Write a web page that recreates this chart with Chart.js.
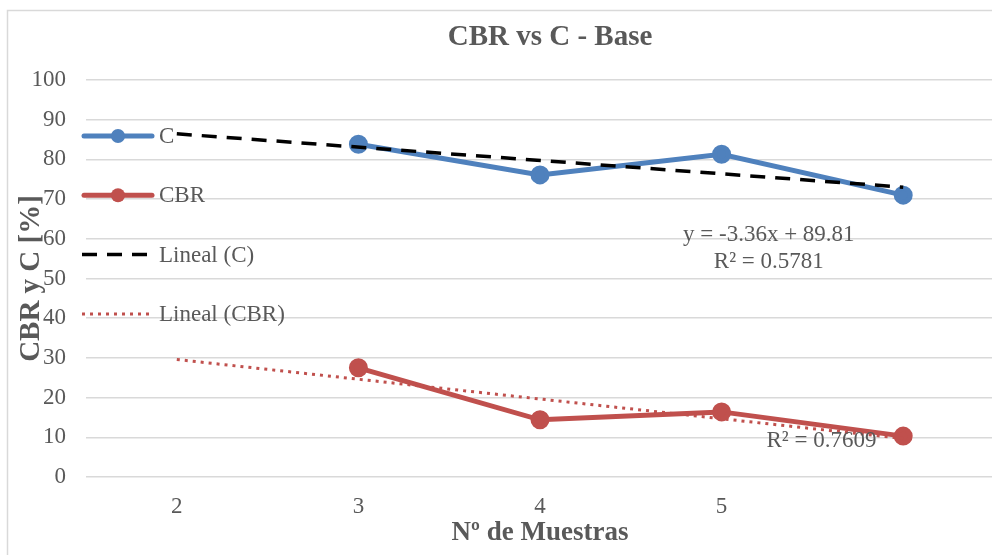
<!DOCTYPE html>
<html>
<head>
<meta charset="utf-8">
<script src="https://cdn.jsdelivr.net/npm/chart.js@4"></script>
<style>
	body { margin: 0; background: #fff; overflow: hidden; width: 992px; height: 555px; }
</style>
</head>
<body>
<canvas id="myChart" width="1006" height="555"></canvas>
<script>
const muestras = ['2', '3', '4', '5', ''];
const valores_c = [null, 83.8, 76.1, 81.3, 71.0];
const valores_cbr = [null, 27.5, 14.4, 16.4, 10.3];
// extremos de las lineas de tendencia
const tendencia_c = [86.45, null, null, null, 73.01];
const tendencia_cbr = [29.6, null, null, null, 9.7];

const colors = {
	blue: '#4F81BD',
	red: '#C0504D',
	text: '#595959',
	grid: '#D9D9D9'
};
const serif = '"Liberation Serif", "Times New Roman", serif';

const leyenda = [
	{ label: 'C', color: colors.blue, kind: 'marker' },
	{ label: 'CBR', color: colors.red, kind: 'marker' },
	{ label: 'Lineal (C)', color: '#000', kind: 'dash' },
	{ label: 'Lineal (CBR)', color: colors.red, kind: 'dot' }
];

const etiquetas = [
	{ text: 'y = -3.36x + 89.81', x: 3.26, y: 61 },
	{ text: 'R² = 0.5781', x: 3.26, y: 54.2 },
	{ text: 'R² = 0.7609', x: 3.55, y: 9.1 }
];

const extras = {
	id: 'extras',
	afterDraw(chart) {
		const ctx = chart.ctx;
		ctx.save();
		// borde exterior
		ctx.strokeStyle = colors.grid;
		ctx.lineWidth = 1.5;
		ctx.strokeRect(7.5, 10.5, 1050, 600);

		// titulo
		ctx.fillStyle = colors.text;
		ctx.font = 'bold 29px ' + serif;
		ctx.textAlign = 'center';
		ctx.textBaseline = 'middle';
		ctx.fillText('CBR vs C - Base', 550, 38);

		// ecuaciones de tendencia
		ctx.font = '23px ' + serif;
		const xs = chart.scales.x, ys = chart.scales.y;
		etiquetas.forEach(e => {
			ctx.fillText(e.text, xs.getPixelForValue(e.x), ys.getPixelForValue(e.y));
		});

		// leyenda
		ctx.textAlign = 'left';
		leyenda.forEach((item, i) => {
			const y = 136 + i * 59.3;
			ctx.strokeStyle = item.color;
			ctx.fillStyle = item.color;
			ctx.setLineDash([]);
			ctx.lineCap = 'butt';
			if (item.kind === 'marker') {
				ctx.lineWidth = 5;
				ctx.lineCap = 'round';
				ctx.beginPath(); ctx.moveTo(84, y); ctx.lineTo(152, y); ctx.stroke();
				ctx.beginPath(); ctx.arc(118, y, 7, 0, Math.PI * 2); ctx.fill();
			} else if (item.kind === 'dash') {
				ctx.lineWidth = 3.5;
				ctx.setLineDash([15, 10]);
				ctx.beginPath(); ctx.moveTo(82, y); ctx.lineTo(154, y); ctx.stroke();
			} else {
				ctx.lineWidth = 3;
				ctx.setLineDash([3, 5]);
				ctx.beginPath(); ctx.moveTo(82, y); ctx.lineTo(154, y); ctx.stroke();
			}
			ctx.setLineDash([]);
			ctx.fillStyle = colors.text;
			ctx.fillText(item.label, 159, y + 1);
		});
		ctx.restore();
	}
};

var ctx = document.getElementById('myChart').getContext('2d');
var myChart = new Chart(ctx, {
	type: 'line',
	data: {
		labels: muestras,
		datasets: [
			{
				label: 'C',
				data: valores_c,
				borderColor: colors.blue,
				backgroundColor: colors.blue,
				borderWidth: 5,
				pointRadius: 7,
				pointHoverRadius: 7,
				tension: 0,
				order: 2
			},
			{
				label: 'CBR',
				data: valores_cbr,
				borderColor: colors.red,
				backgroundColor: colors.red,
				borderWidth: 5,
				pointRadius: 7,
				pointHoverRadius: 7,
				tension: 0,
				order: 2
			},
			{
				label: 'Lineal (C)',
				data: tendencia_c,
				borderColor: '#000',
				borderWidth: 3.5,
				borderDash: [15, 10],
				pointRadius: 0,
				spanGaps: true,
				order: 1
			},
			{
				label: 'Lineal (CBR)',
				data: tendencia_cbr,
				borderColor: colors.red,
				borderWidth: 3,
				borderDash: [3, 5],
				pointRadius: 0,
				spanGaps: true,
				order: 1
			}
		]
	},
	options: {
		responsive: false,
		animation: false,
		layout: { padding: { left: 14, top: 80, right: 0, bottom: 0 } },
		plugins: {
			legend: { display: false },
			title: { display: false },
			tooltip: { enabled: false }
		},
		scales: {
			x: {
				offset: true,
				grid: { display: false },
				border: { display: false },
				ticks: { color: colors.text, font: { family: serif, size: 23 }, padding: 8 },
				title: {
					display: true,
					text: 'Nº de Muestras',
					color: colors.text,
					font: { family: serif, size: 27, weight: 'bold' },
					padding: { top: 0, bottom: 6 }
				},
				afterFit: s => { s.height = 78; }
			},
			y: {
				min: 0,
				max: 100,
				ticks: { stepSize: 10, color: colors.text, font: { family: serif, size: 23 }, padding: 20 },
				grid: { color: colors.grid, lineWidth: 1.5, drawTicks: false },
				border: { display: false },
				title: {
					display: true,
					text: 'CBR y C [%]',
					color: colors.text,
					font: { family: serif, size: 29, weight: 'bold' },
					padding: { top: 0, bottom: 0 }
				},
				afterFit: s => { s.width = 72; }
			}
		}
	},
	plugins: [extras]
});
</script>
</body>
</html>
